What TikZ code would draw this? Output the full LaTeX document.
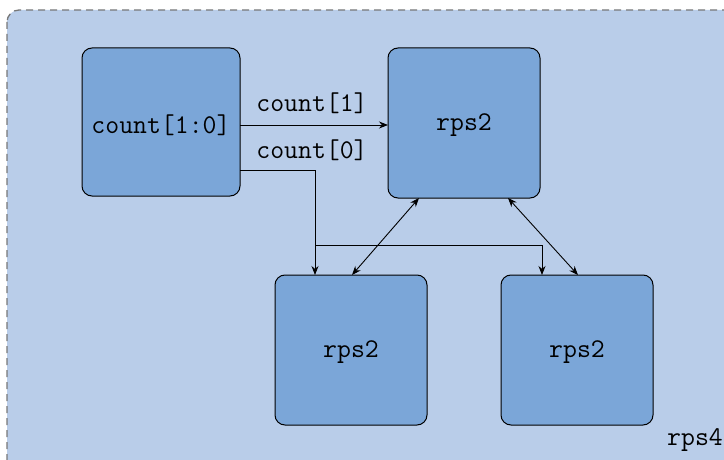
\documentclass[tikz,border=0pt]{standalone}
\usetikzlibrary{arrows.meta}
\definecolor{outerfill}{RGB}{185,205,233}
\definecolor{boxfill}{RGB}{123,166,216}
\definecolor{dashgray}{RGB}{120,120,120}
\begin{document}
\begin{tikzpicture}[x=1pt,y=-1pt,
  blk/.style={draw=black,line width=1pt,fill=boxfill,rounded corners=10pt},
  lbl/.style={font=\fontsize{27}{32}\selectfont\ttfamily,inner sep=0pt},
  conn/.style={line width=0.9pt,-{Stealth[length=9pt,width=7pt]}},
  biconn/.style={line width=0.9pt,{Stealth[length=9pt,width=7pt]}-{Stealth[length=9pt,width=7pt]}}]
\useasboundingbox (0,0) rectangle (724,460);
\begin{scope}
\clip (0,0) rectangle (724,460);
\draw[fill=outerfill,draw=dashgray,line width=1.3pt,dash pattern=on 7pt off 5pt,rounded corners=12pt] (7,10) rectangle (740,480);
\end{scope}
\draw[blk] (82,48) rectangle (240,196);
\node[lbl] (a) at (161,125) {count[1:0]};
\draw[blk] (388,48) rectangle (540,198);
\node[lbl] (b) at (464,125) {rps2};
\draw[blk] (275,275) rectangle (427,425);
\node[lbl] (c) at (351,352) {rps2};
\draw[blk] (501,275) rectangle (653,425);
\node[lbl] (d) at (577,352) {rps2};
\coordinate (a1) at (240,125);
\coordinate (b1) at (388,125);
\coordinate (a0) at (240,170);
\coordinate (j) at (315,170);
\coordinate (ct) at (315,275);
\coordinate (br) at (315,245);
\coordinate (bk) at (542,245);
\coordinate (dt) at (542,275);
\draw[conn] (a1) -- (b1);
\node[lbl] (l1) at (312,103) {count[1]};
\node[lbl] (l0) at (312,150) {count[0]};
\draw[conn] (a0) -- (j) -- (ct);
\draw[conn] (br) -- (bk) -- (dt);
\coordinate (b2) at (419,198);
\coordinate (c2) at (352,275);
\coordinate (b3) at (508,198);
\coordinate (d3) at (578,275);
\draw[biconn] (b2) -- (c2);
\draw[biconn] (b3) -- (d3);
\node[lbl] (r4) at (695,440) {rps4};
\end{tikzpicture}
\end{document}
